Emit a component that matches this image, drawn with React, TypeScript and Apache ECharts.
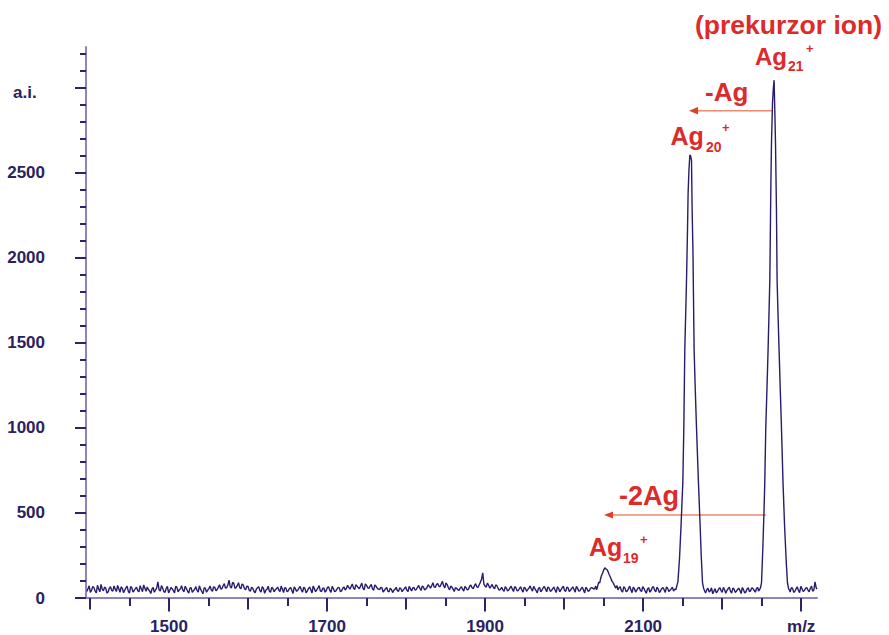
import React, { useEffect, useRef } from "react";
import * as echarts from "echarts";

// ---- spectrum data: [m/z, intensity (a.i.)] ----
const baselineLow: [number, number][] = [
  [1396, 38], [1399, 72], [1402, 45], [1405, 61], [1408, 30], [1411, 55], [1414, 80], [1417, 42], [1420, 58], [1423, 35],
  [1426, 66], [1429, 40], [1432, 52], [1435, 74], [1438, 33], [1441, 57], [1444, 46], [1447, 70], [1450, 28], [1453, 60],
  [1456, 44], [1459, 63], [1462, 36], [1465, 54], [1468, 77], [1471, 39], [1474, 50], [1477, 26], [1480, 62], [1483, 47],
  [1486, 95], [1489, 41], [1492, 58], [1495, 33], [1498, 69], [1501, 45], [1504, 55], [1507, 30], [1510, 64], [1513, 48],
  [1516, 72], [1519, 37], [1522, 56], [1525, 29], [1528, 61], [1531, 43], [1534, 67], [1537, 35], [1540, 52], [1543, 25],
  [1546, 58], [1549, 46], [1552, 71], [1555, 40], [1558, 62], [1561, 50], [1564, 78], [1567, 55], [1570, 84], [1573, 60],
  [1576, 105], [1579, 58], [1582, 86], [1585, 62], [1588, 90], [1591, 54], [1594, 76], [1597, 48], [1600, 68], [1603, 39],
  [1606, 57], [1609, 31], [1612, 60], [1615, 44], [1618, 66], [1621, 28], [1624, 52], [1627, 41], [1630, 63], [1633, 36],
  [1636, 55], [1639, 47], [1642, 70], [1645, 32], [1648, 58], [1651, 43], [1654, 61], [1657, 27], [1660, 54], [1663, 46],
  [1666, 68], [1669, 35], [1672, 57], [1675, 42], [1678, 65], [1681, 30], [1684, 55], [1687, 48], [1690, 73], [1693, 38],
  [1696, 59], [1699, 44], [1702, 66], [1705, 33], [1708, 56], [1711, 41], [1714, 62], [1717, 36], [1720, 58], [1723, 47],
  [1726, 75], [1729, 52], [1732, 82], [1735, 50], [1738, 70], [1741, 55], [1744, 88], [1747, 48], [1750, 74], [1753, 57],
  [1756, 80], [1759, 46], [1762, 69], [1765, 52], [1768, 63], [1771, 35], [1774, 55], [1777, 40], [1780, 58], [1783, 32],
  [1786, 51], [1789, 43], [1792, 60], [1795, 37], [1798, 56], [1801, 45], [1804, 68], [1807, 41], [1810, 62], [1813, 50],
  [1816, 74], [1819, 44], [1822, 65], [1825, 53], [1828, 78], [1831, 58], [1834, 90], [1837, 62], [1840, 85], [1843, 66],
  [1846, 98], [1849, 60], [1852, 79], [1855, 48], [1858, 64], [1861, 38], [1864, 57], [1867, 44], [1870, 66], [1873, 40],
  [1876, 60], [1879, 52], [1882, 76], [1885, 55], [1888, 84], [1891, 62], [1894, 92], [1897, 148], [1900, 70], [1903, 88],
  [1906, 58], [1909, 80], [1912, 54], [1915, 72], [1918, 45], [1921, 63], [1924, 40], [1927, 58], [1930, 47], [1933, 69],
  [1936, 38], [1939, 60], [1942, 44], [1945, 66], [1948, 35], [1951, 57], [1954, 49], [1957, 71], [1960, 40], [1963, 55],
  [1966, 30], [1969, 62], [1972, 46], [1975, 68], [1978, 37], [1981, 59], [1984, 43], [1987, 64], [1990, 32], [1993, 57],
  [1996, 48], [1999, 70], [2002, 39], [2005, 60], [2008, 45], [2011, 66], [2014, 34], [2017, 58], [2020, 42], [2023, 63],
  [2026, 30], [2029, 55], [2032, 44], [2035, 61],
];

const baselineLowFill: [number, number][] = [
  [1397.5, 55], [1400.5, 33], [1403.5, 68], [1406.5, 42], [1409.5, 75], [1412.5, 36], [1415.5, 52], [1418.5, 64], [1421.5, 29], [1424.5, 57],
  [1427.5, 45], [1430.5, 71], [1433.5, 38], [1436.5, 54], [1439.5, 66], [1442.5, 31], [1445.5, 59], [1448.5, 40], [1451.5, 67], [1454.5, 35],
  [1457.5, 56], [1460.5, 43], [1463.5, 72], [1466.5, 37], [1469.5, 58], [1472.5, 65], [1475.5, 41], [1478.5, 53], [1481.5, 34], [1484.5, 60],
  [1487.5, 48], [1490.5, 73], [1493.5, 39], [1496.5, 56], [1499.5, 30], [1502.5, 62], [1505.5, 44], [1508.5, 68], [1511.5, 36], [1514.5, 55],
  [1517.5, 46], [1520.5, 69], [1523.5, 41], [1526.5, 58], [1529.5, 33], [1532.5, 51], [1535.5, 45], [1538.5, 72], [1541.5, 38], [1544.5, 60],
  [1547.5, 34], [1550.5, 55], [1553.5, 47], [1556.5, 66], [1559.5, 42], [1562.5, 64], [1565.5, 52], [1568.5, 72], [1571.5, 58], [1574.5, 76],
  [1577.5, 66], [1580.5, 92], [1583.5, 57], [1586.5, 74], [1589.5, 61], [1592.5, 83], [1595.5, 55], [1598.5, 70], [1601.5, 46], [1604.5, 63],
  [1607.5, 40], [1610.5, 52], [1613.5, 66], [1616.5, 35], [1619.5, 58], [1622.5, 45], [1625.5, 69], [1628.5, 33], [1631.5, 56], [1634.5, 48],
  [1637.5, 64], [1640.5, 38], [1643.5, 53], [1646.5, 61], [1649.5, 36], [1652.5, 57], [1655.5, 44], [1658.5, 66], [1661.5, 39], [1664.5, 58],
  [1667.5, 47], [1670.5, 63], [1673.5, 30], [1676.5, 55], [1679.5, 49], [1682.5, 71], [1685.5, 37], [1688.5, 60], [1691.5, 42], [1694.5, 56],
  [1697.5, 34], [1700.5, 62], [1703.5, 45], [1706.5, 68], [1709.5, 38], [1712.5, 52], [1715.5, 59], [1718.5, 43], [1721.5, 64], [1724.5, 56],
  [1727.5, 62], [1730.5, 68], [1733.5, 58], [1736.5, 79], [1739.5, 61], [1742.5, 72], [1745.5, 57], [1748.5, 83], [1751.5, 60], [1754.5, 70],
  [1757.5, 54], [1760.5, 77], [1763.5, 58], [1766.5, 49], [1769.5, 60], [1772.5, 44], [1775.5, 62], [1778.5, 36], [1781.5, 50], [1784.5, 45],
  [1787.5, 63], [1790.5, 39], [1793.5, 54], [1796.5, 48], [1799.5, 66], [1802.5, 38], [1805.5, 55], [1808.5, 59], [1811.5, 46], [1814.5, 63],
  [1817.5, 56], [1820.5, 71], [1823.5, 47], [1826.5, 62], [1829.5, 68], [1832.5, 74], [1835.5, 66], [1838.5, 80], [1841.5, 70], [1844.5, 82],
  [1847.5, 72], [1850.5, 88], [1853.5, 62], [1856.5, 70], [1859.5, 52], [1862.5, 61], [1865.5, 49], [1868.5, 58], [1871.5, 52], [1874.5, 68],
  [1877.5, 47], [1880.5, 70], [1883.5, 60], [1886.5, 72], [1889.5, 66], [1892.5, 78], [1895.5, 110], [1898.5, 82], [1901.5, 64], [1904.5, 75],
  [1907.5, 68], [1910.5, 62], [1913.5, 77], [1916.5, 56], [1919.5, 52], [1922.5, 48], [1925.5, 66], [1928.5, 41], [1931.5, 60], [1934.5, 52],
  [1937.5, 67], [1940.5, 42], [1943.5, 56], [1946.5, 48], [1949.5, 63], [1952.5, 40], [1955.5, 58], [1958.5, 53], [1961.5, 68], [1964.5, 44],
  [1967.5, 57], [1970.5, 37], [1973.5, 60], [1976.5, 52], [1979.5, 65], [1982.5, 39], [1985.5, 55], [1988.5, 47], [1991.5, 66], [1994.5, 36],
  [1997.5, 59], [2000.5, 45], [2003.5, 64], [2006.5, 38], [2009.5, 56], [2012.5, 50], [2015.5, 69], [2018.5, 41], [2021.5, 55], [2024.5, 47],
  [2027.5, 63], [2030.5, 38], [2033.5, 58],
];

const peakAg19: [number, number][] = [
  [2038, 52], [2039, 60], [2040, 70], [2041, 48], [2042, 62], [2043, 80], [2044, 95], [2045, 88], [2046, 110], [2047, 128],
  [2048, 140], [2049, 150], [2050, 165], [2051, 172], [2052, 178], [2053, 170], [2054, 168], [2055, 162], [2056, 150],
  [2057, 138], [2058, 128], [2059, 118], [2060, 105], [2061, 96], [2062, 90], [2063, 80], [2064, 72], [2065, 58], [2066, 65], [2067, 72],
];

const baselineMid: [number, number][] = [
  [2068, 48], [2069.5, 60], [2071, 66], [2072.5, 42], [2074, 35], [2075.5, 67], [2077, 58], [2078.5, 37], [2080, 42], [2081.5, 55],
  [2083, 70], [2084.5, 48], [2086, 31], [2087.5, 64], [2089, 55], [2090.5, 35], [2092, 46], [2093.5, 58], [2095, 63], [2096.5, 44],
  [2098, 38], [2099.5, 66], [2101, 57], [2102.5, 40], [2104, 28], [2105.5, 53], [2107, 60], [2108.5, 34], [2110, 44], [2111.5, 61],
  [2113, 67], [2114.5, 47], [2116, 36], [2117.5, 63], [2119, 54], [2120.5, 32], [2122, 41], [2123.5, 56], [2125, 62], [2126.5, 49],
  [2128, 33], [2129.5, 65], [2131, 58], [2132.5, 38], [2134, 45], [2135.5, 54], [2137, 64], [2138.5, 41], [2140, 52],
];

const peakAg20: [number, number][] = [
  [2141.5, 50], [2142.5, 70], [2144, 95], [2146, 230], [2148, 430], [2150.2, 677], [2151.5, 1006], [2152.7, 1459],
  [2154, 1700], [2154.9, 1870], [2156.2, 2180], [2156.9, 2381], [2158, 2520], [2159.1, 2605], [2160, 2600],
  [2161.2, 2575], [2162, 2281], [2163, 2050], [2164.5, 1459], [2166, 1220], [2167.5, 1006], [2170, 677],
  [2172, 440], [2173.5, 250], [2175.1, 90], [2176.5, 58], [2178, 40],
];

const baselineHigh: [number, number][] = [
  [2179, 30], [2180.5, 48], [2182, 58], [2183.5, 35], [2185, 42], [2186.5, 60], [2188, 25], [2189.5, 40], [2191, 55], [2192.5, 30],
  [2194, 38], [2195.5, 52], [2197, 61], [2198.5, 45], [2200, 33], [2201.5, 62], [2203, 50], [2204.5, 28], [2206, 44], [2207.5, 55],
  [2209, 64], [2210.5, 40], [2212, 29], [2213.5, 58], [2215, 53], [2216.5, 33], [2218, 40], [2219.5, 50], [2221, 58], [2222.5, 45],
  [2224, 26], [2225.5, 62], [2227, 49], [2228.5, 30], [2230, 36], [2231.5, 53], [2233, 60], [2234.5, 38], [2236, 42], [2237.5, 60],
  [2239, 55], [2240.5, 44], [2242, 34], [2243.5, 57], [2245, 62], [2246, 40], [2247, 48],
];

const peakAg21: [number, number][] = [
  [2248.5, 60], [2249.8, 90], [2251.5, 300], [2253, 520], [2253.9, 677], [2255.2, 1006], [2256.8, 1250], [2258.1, 1459],
  [2259.3, 1680], [2260.3, 1870], [2261.5, 2381], [2262.4, 2675], [2263.7, 2912], [2264.8, 3000], [2265.7, 3045],
  [2266.6, 2870], [2267.5, 2675], [2268.7, 2281], [2269.5, 1870], [2270.8, 1650], [2272, 1459], [2273.5, 1230],
  [2275, 1006], [2277, 677], [2279, 420], [2281, 220], [2282.6, 90], [2284, 55],
];

const baselineEnd: [number, number][] = [
  [2285, 48], [2286, 35], [2287.5, 60], [2289, 58], [2290.5, 33], [2292, 40], [2293.5, 54], [2295, 66], [2296.5, 45], [2298, 31],
  [2299.5, 68], [2301, 55], [2302.5, 38], [2304, 44], [2305.5, 57], [2307, 62], [2308.5, 48], [2310, 36], [2311.5, 56], [2313, 70],
  [2314.5, 40], [2316, 47], [2317.5, 95], [2319, 60], [2320, 52],
];

// ---- axis ticks & labels ----
const xShortTicks = [1400, 1450, 1500, 1550, 1600, 1650, 1700, 1750, 1800, 1850, 1900, 1950, 2000, 2050, 2100, 2150, 2200, 2250, 2300];
const xMidTicks = [1400, 1500, 1600, 1700, 1800, 1900, 2000, 2100, 2200, 2300];
const xLongTicks = [1500, 1700, 1900, 2100, 2300];
const xLabelValues = [1500, 1700, 1900, 2100, 2300];
const yMinorTicks = [0, 100, 200, 300, 400, 500, 600, 700, 800, 900, 1000, 1100, 1200, 1300, 1400, 1500, 1600, 1700, 1800, 1900, 2000, 2100, 2200, 2300, 2400, 2500, 2600, 2700, 2800, 2900, 3000, 3100, 3200];
const yMajorTicks = [0, 500, 1000, 1500, 2000, 2500, 3000];
const yLabelValues = [0, 500, 1000, 1500, 2000, 2500];

const FONT = '"Liberation Sans", Arial, Helvetica, sans-serif';
const AXIS_LINE = "#8b84bd";
const TICK = "#2c2468";
const LABEL = "#2a2260";
const LINE = "#2a1b6e";
const RED = "#dd2a2a";

function txt(text: string, x: number, y: number, size: number) {
  return {
    type: "text",
    x,
    y,
    silent: true,
    style: {
      text,
      fill: RED,
      font: `bold ${size}px ${FONT}`,
      textAlign: "left",
      textVerticalAlign: "middle",
    },
  };
}

export default function App() {
  const ref = useRef<HTMLDivElement>(null);

  useEffect(() => {
    if (!ref.current) return;
    const chart = echarts.init(ref.current, undefined, { renderer: "svg" });

    const spectrum = [
      ...baselineLow,
      ...baselineLowFill,
      ...peakAg19,
      ...baselineMid,
      ...peakAg20,
      ...baselineHigh,
      ...peakAg21,
      ...baselineEnd,
    ].sort((a, b) => a[0] - b[0]);

    const xCommon = {
      type: "value",
      min: 1395,
      max: 2320,
      position: "bottom",
      splitLine: { show: false },
      axisLine: { show: false },
      axisLabel: { show: false },
    };
    const yCommon = {
      type: "value",
      min: 0,
      max: 3240,
      position: "left",
      splitLine: { show: false },
      axisLine: { show: false },
      axisLabel: { show: false },
    };

    chart.setOption({
      animation: false,
      backgroundColor: "#ffffff",
      grid: { left: 86, right: 72, top: 47, bottom: 37, containLabel: false },
      xAxis: [
        {
          ...xCommon,
          axisLine: { show: true, lineStyle: { color: AXIS_LINE, width: 2 } },
          axisTick: { show: true, customValues: xShortTicks, length: 8, lineStyle: { color: TICK, width: 2 } },
        },
        {
          ...xCommon,
          axisTick: { show: true, customValues: xMidTicks, length: 11.5, lineStyle: { color: TICK, width: 2 } },
        },
        {
          ...xCommon,
          axisTick: { show: true, customValues: xLongTicks, length: 13.5, lineStyle: { color: TICK, width: 2 } },
          axisLabel: {
            show: true,
            customValues: xLabelValues,
            formatter: (v: number) => (v === 2300 ? "m/z" : String(v)),
            margin: 20,
            color: LABEL,
            fontSize: 17,
            fontWeight: "bold",
            fontFamily: FONT,
          },
        },
      ],
      yAxis: [
        {
          ...yCommon,
          axisLine: { show: true, lineStyle: { color: AXIS_LINE, width: 2 } },
          axisTick: { show: true, customValues: yMinorTicks, length: 6, lineStyle: { color: TICK, width: 2 } },
        },
        {
          ...yCommon,
          axisTick: { show: true, customValues: yMajorTicks, length: 11, lineStyle: { color: TICK, width: 2 } },
          axisLabel: {
            show: true,
            customValues: yLabelValues,
            formatter: (v: number) => String(v),
            margin: 41,
            padding: [6, 0, 0, 0],
            color: LABEL,
            fontSize: 17,
            fontWeight: "bold",
            fontFamily: FONT,
          },
        },
      ],
      series: [
        {
          type: "line",
          xAxisIndex: 0,
          yAxisIndex: 0,
          data: spectrum,
          showSymbol: false,
          symbol: "none",
          lineStyle: { color: LINE, width: 1.4 },
          itemStyle: { color: LINE },
          z: 3,
        },
      ],
      graphic: [
        {
          type: "text",
          x: 13,
          y: 92,
          silent: true,
          style: {
            text: "a.i.",
            fill: LABEL,
            font: `bold 17px ${FONT}`,
            textAlign: "left",
            textVerticalAlign: "middle",
          },
        },
        txt("(prekurzor ion)", 695, 25, 26.5),
        txt("Ag", 755, 56.5, 24),
        txt("21", 788, 65.5, 14),
        txt("+", 806, 48.5, 13),
        txt("-Ag", 705, 91.5, 26),
        txt("Ag", 670.5, 136, 25),
        txt("20", 706, 146.7, 14),
        txt("+", 722, 127.5, 13),
        txt("-2Ag", 619, 496, 27),
        txt("Ag", 589, 546.5, 25),
        txt("19", 623, 558, 14),
        txt("+", 640, 539.5, 13),
        {
          type: "line",
          silent: true,
          shape: { x1: 772, y1: 110.7, x2: 696, y2: 110.7 },
          style: { stroke: "#ee8a70", lineWidth: 1.5 },
        },
        {
          type: "polygon",
          silent: true,
          shape: { points: [[689, 110.7], [698, 107], [698, 114.4]] },
          style: { fill: "#e0402a" },
        },
        {
          type: "line",
          silent: true,
          shape: { x1: 766, y1: 515, x2: 611, y2: 515 },
          style: { stroke: "#e04a2a", lineWidth: 1.2 },
        },
        {
          type: "polygon",
          silent: true,
          shape: { points: [[604, 515], [613, 511.5], [613, 518.5]] },
          style: { fill: "#e0402a" },
        },
      ],
    });

    return () => {
      chart.dispose();
    };
  }, []);

  return (
    <div
      ref={ref}
      style={{ position: "absolute", left: 0, top: 0, width: 889, height: 635, background: "#fff" }}
    />
  );
}
